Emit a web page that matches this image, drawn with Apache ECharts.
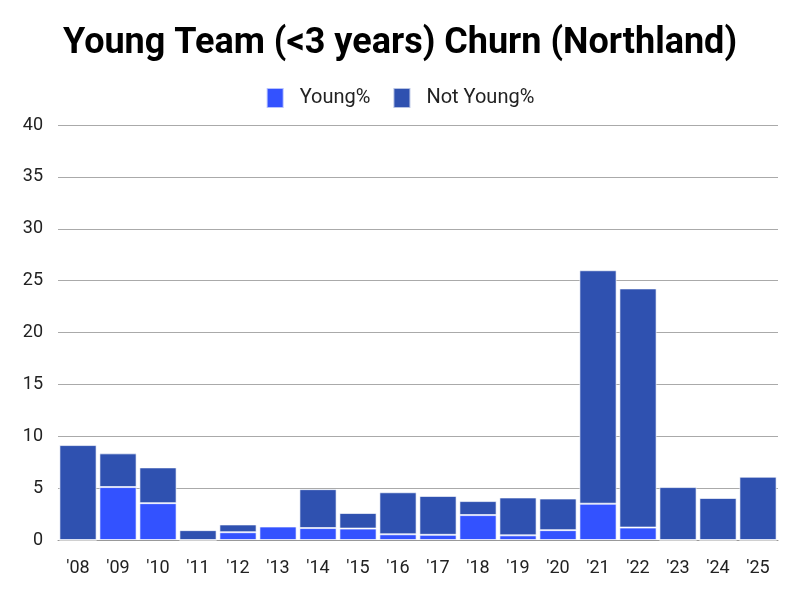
<!DOCTYPE html>
<html><head><meta charset="utf-8">
<script src="https://cdn.jsdelivr.net/npm/echarts@6/dist/echarts.min.js"></script>
<style>html,body{margin:0;padding:0;background:#fff}#c{width:800px;height:600px}</style>
</head><body><div id="c"></div>
<script>
const categories = ["'08","'09","'10","'11","'12","'13","'14","'15","'16","'17","'18","'19","'20","'21","'22","'23","'24","'25"];
const youngPct = [0, 5.1, 3.55, 0, 0.75, 1.3, 1.15, 1.1, 0.55, 0.5, 2.4, 0.45, 0.95, 3.5, 1.2, 0, 0, 0];
const notYoungPct = [9.15, 3.25, 3.45, 0.95, 0.75, 0, 3.75, 1.5, 4.05, 3.75, 1.35, 3.65, 3.05, 22.5, 23.05, 5.1, 4.05, 6.1];
const yTicks = {min: 0, max: 40, interval: 5};

const chart = echarts.init(document.getElementById('c'));
const itemStyleBorder = {borderColor: 'rgba(255,255,255,0.65)', borderWidth: 1};
chart.setOption({
  textStyle: {fontFamily: 'Roboto'},
  title: {text: 'Young Team (<3 years) Churn (Northland)', left: 'center', top: 21,
    textStyle: {fontSize: 36, fontWeight: 'bold', color: '#000', fontFamily: 'Roboto'}},
  legend: {top: 82, left: 'center', itemWidth: 17, itemHeight: 20, itemGap: 22, icon: 'rect',
    textStyle: {fontSize: 20, color: '#222', padding: [0, 0, 0, 11]},
    data: ['Young%', 'Not Young%']},
  grid: {left: 58, right: 22, top: 125, bottom: 60},
  xAxis: {type: 'category', data: categories,
    axisLine: {lineStyle: {color: '#999'}}, axisTick: {show: false},
    axisLabel: {fontSize: 18, color: '#222', margin: 19}},
  yAxis: {type: 'value', min: yTicks.min, max: yTicks.max, interval: yTicks.interval,
    axisLine: {show: false}, axisTick: {show: false},
    axisLabel: {fontSize: 18, color: '#222', margin: 15},
    splitLine: {lineStyle: {color: '#aaa'}}},
  series: [
    {name: 'Young%', type: 'bar', stack: 's', data: youngPct, barCategoryGap: '7%',
      itemStyle: Object.assign({color: '#3352ff'}, itemStyleBorder)},
    {name: 'Not Young%', type: 'bar', stack: 's', data: notYoungPct, barCategoryGap: '7%',
      itemStyle: Object.assign({color: '#2f51b0'}, itemStyleBorder)}
  ]
});
</script></body></html>
